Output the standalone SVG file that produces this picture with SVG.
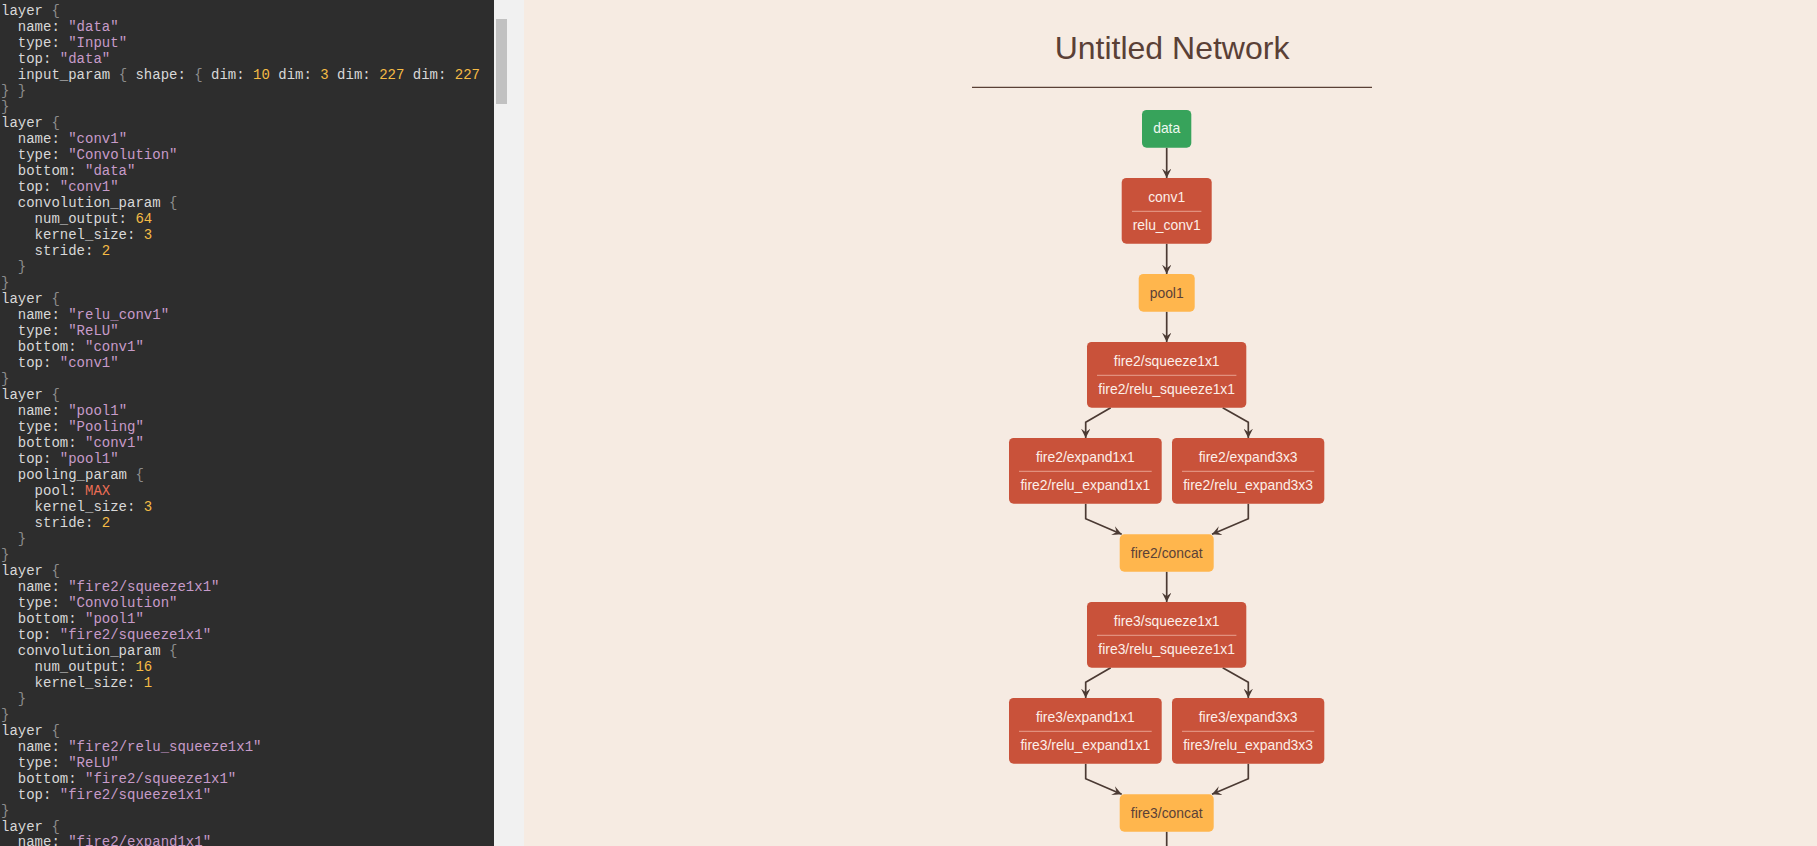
<svg xmlns="http://www.w3.org/2000/svg" width="1817" height="846" viewBox="0 0 1817 846">
<style>
.code{font-family:"Liberation Mono","DejaVu Sans Mono",monospace;font-size:14px;fill:#d8d8d8;white-space:pre}
.s{fill:#c79bc9}.n{fill:#f5bb45}.b{fill:#8c8c8c}.a{fill:#ec6d55}
.lbl{font-family:"Liberation Sans",Arial,sans-serif;font-size:13.9px;text-anchor:middle}
.conv rect.box{fill:#c9523a}.conv text{fill:#fcefe9}
.pool rect.box{fill:#ffb64d}.pool text{fill:#5b4137}
.input rect.box{fill:#37a35b}.input text{fill:#eef8f0}
.sep{stroke:#e8a18f;stroke-width:1}
.edge{fill:none;stroke:#4b3a33;stroke-width:1.7}
</style>
<defs>
<marker id="vee" viewBox="0 0 10 10" refX="10" refY="5" markerUnits="userSpaceOnUse" markerWidth="9.4" markerHeight="9.4" orient="auto">
<path d="M0,0 L10,5 L0,10 L4,5 z" fill="#4b3a33"/>
</marker>
</defs>
<rect x="0" y="0" width="1817" height="846" fill="#f6ebe2"/>
<rect x="0" y="0" width="494" height="846" fill="#2d2d2d"/>
<rect x="494" y="0" width="30" height="846" fill="#f1f1f1"/>
<rect x="496" y="19" width="11" height="85" fill="#c1c1c1"/>

<g id="code">
<text class="code" x="1" y="15">layer <tspan class="b">{</tspan></text>
<text class="code" x="1" y="31">  name: <tspan class="s">"data"</tspan></text>
<text class="code" x="1" y="47">  type: <tspan class="s">"Input"</tspan></text>
<text class="code" x="1" y="63">  top: <tspan class="s">"data"</tspan></text>
<text class="code" x="1" y="79">  input_param <tspan class="b">{</tspan> shape: <tspan class="b">{</tspan> dim: <tspan class="n">10</tspan> dim: <tspan class="n">3</tspan> dim: <tspan class="n">227</tspan> dim: <tspan class="n">227</tspan></text>
<text class="code b" x="1" y="95">} }</text>
<text class="code b" x="1" y="111">}</text>
<text class="code" x="1" y="127">layer <tspan class="b">{</tspan></text>
<text class="code" x="1" y="143">  name: <tspan class="s">"conv1"</tspan></text>
<text class="code" x="1" y="159">  type: <tspan class="s">"Convolution"</tspan></text>
<text class="code" x="1" y="175">  bottom: <tspan class="s">"data"</tspan></text>
<text class="code" x="1" y="191">  top: <tspan class="s">"conv1"</tspan></text>
<text class="code" x="1" y="207">  convolution_param <tspan class="b">{</tspan></text>
<text class="code" x="1" y="223">    num_output: <tspan class="n">64</tspan></text>
<text class="code" x="1" y="239">    kernel_size: <tspan class="n">3</tspan></text>
<text class="code" x="1" y="255">    stride: <tspan class="n">2</tspan></text>
<text class="code b" x="1" y="271">  }</text>
<text class="code b" x="1" y="287">}</text>
<text class="code" x="1" y="303">layer <tspan class="b">{</tspan></text>
<text class="code" x="1" y="319">  name: <tspan class="s">"relu_conv1"</tspan></text>
<text class="code" x="1" y="335">  type: <tspan class="s">"ReLU"</tspan></text>
<text class="code" x="1" y="351">  bottom: <tspan class="s">"conv1"</tspan></text>
<text class="code" x="1" y="367">  top: <tspan class="s">"conv1"</tspan></text>
<text class="code b" x="1" y="383">}</text>
<text class="code" x="1" y="399">layer <tspan class="b">{</tspan></text>
<text class="code" x="1" y="415">  name: <tspan class="s">"pool1"</tspan></text>
<text class="code" x="1" y="431">  type: <tspan class="s">"Pooling"</tspan></text>
<text class="code" x="1" y="447">  bottom: <tspan class="s">"conv1"</tspan></text>
<text class="code" x="1" y="463">  top: <tspan class="s">"pool1"</tspan></text>
<text class="code" x="1" y="479">  pooling_param <tspan class="b">{</tspan></text>
<text class="code" x="1" y="495">    pool: <tspan class="a">MAX</tspan></text>
<text class="code" x="1" y="511">    kernel_size: <tspan class="n">3</tspan></text>
<text class="code" x="1" y="527">    stride: <tspan class="n">2</tspan></text>
<text class="code b" x="1" y="543">  }</text>
<text class="code b" x="1" y="559">}</text>
<text class="code" x="1" y="575">layer <tspan class="b">{</tspan></text>
<text class="code" x="1" y="591">  name: <tspan class="s">"fire2/squeeze1x1"</tspan></text>
<text class="code" x="1" y="607">  type: <tspan class="s">"Convolution"</tspan></text>
<text class="code" x="1" y="623">  bottom: <tspan class="s">"pool1"</tspan></text>
<text class="code" x="1" y="639">  top: <tspan class="s">"fire2/squeeze1x1"</tspan></text>
<text class="code" x="1" y="655">  convolution_param <tspan class="b">{</tspan></text>
<text class="code" x="1" y="671">    num_output: <tspan class="n">16</tspan></text>
<text class="code" x="1" y="687">    kernel_size: <tspan class="n">1</tspan></text>
<text class="code b" x="1" y="703">  }</text>
<text class="code b" x="1" y="719">}</text>
<text class="code" x="1" y="735">layer <tspan class="b">{</tspan></text>
<text class="code" x="1" y="751">  name: <tspan class="s">"fire2/relu_squeeze1x1"</tspan></text>
<text class="code" x="1" y="767">  type: <tspan class="s">"ReLU"</tspan></text>
<text class="code" x="1" y="783">  bottom: <tspan class="s">"fire2/squeeze1x1"</tspan></text>
<text class="code" x="1" y="799">  top: <tspan class="s">"fire2/squeeze1x1"</tspan></text>
<text class="code b" x="1" y="815">}</text>
<text class="code" x="1" y="831">layer <tspan class="b">{</tspan></text>
<text class="code" x="1" y="845.5">  name: <tspan class="s">"fire2/expand1x1"</tspan></text>
</g>

<text x="1172" y="59.3" font-family="Liberation Sans, Arial, sans-serif" font-size="32" fill="#5a4036" text-anchor="middle">Untitled Network</text>
<line x1="972" y1="87.3" x2="1372" y2="87.3" stroke="#5a4036" stroke-width="1.2"/>

<g id="connectors">
<path class="edge" marker-end="url(#vee)" d="M1166.7,147.7 V178"/>
<path class="edge" marker-end="url(#vee)" d="M1166.7,243.7 V274"/>
<path class="edge" marker-end="url(#vee)" d="M1166.7,311.7 V342"/>
<path class="edge" marker-end="url(#vee)" d="M1110.7,407.7 L1085.7,422.3 V438"/>
<path class="edge" marker-end="url(#vee)" d="M1222.7,407.7 L1248.3,422.3 V438"/>
<path class="edge" marker-end="url(#vee)" d="M1085.7,503.7 V518.7 L1121.7,534.3"/>
<path class="edge" marker-end="url(#vee)" d="M1248.3,503.7 V518.7 L1212,534.3"/>
<path class="edge" marker-end="url(#vee)" d="M1166.7,571.7 V602"/>
<path class="edge" marker-end="url(#vee)" d="M1110.7,667.7 L1085.7,682.3 V698"/>
<path class="edge" marker-end="url(#vee)" d="M1222.7,667.7 L1248.3,682.3 V698"/>
<path class="edge" marker-end="url(#vee)" d="M1085.7,763.7 V778.7 L1121.7,794.3"/>
<path class="edge" marker-end="url(#vee)" d="M1248.3,763.7 V778.7 L1212,794.3"/>
<path class="edge" d="M1166.7,831.7 V850"/>
</g>

<g id="node-data" class="input lbl">
<rect class="box" x="1142" y="110" width="49.3" height="37.7" rx="4.6"/>
<text x="1166.7" y="133.4">data</text>
</g>
<g id="node-conv1" class="conv lbl">
<rect class="box" x="1121.7" y="178" width="90" height="65.7" rx="4.6"/>
<text x="1166.7" y="202">conv1</text>
<line class="sep" x1="1132" y1="211.3" x2="1201.4" y2="211.3"/>
<text x="1166.7" y="230">relu_conv1</text>
</g>
<g id="node-pool1" class="pool lbl">
<rect class="box" x="1138.7" y="274" width="56" height="37.7" rx="4.6"/>
<text x="1166.7" y="297.6">pool1</text>
</g>
<g id="node-fire2-squeeze1x1" class="conv lbl">
<rect class="box" x="1087" y="342" width="159.3" height="65.7" rx="4.6"/>
<text x="1166.7" y="366">fire2/squeeze1x1</text>
<line class="sep" x1="1097" y1="375.3" x2="1236.4" y2="375.3"/>
<text x="1166.7" y="394">fire2/relu_squeeze1x1</text>
</g>
<g id="node-fire2-expand1x1" class="conv lbl">
<rect class="box" x="1009" y="438" width="152.7" height="65.7" rx="4.6"/>
<text x="1085.35" y="462">fire2/expand1x1</text>
<line class="sep" x1="1019" y1="471.3" x2="1151.7" y2="471.3"/>
<text x="1085.35" y="490">fire2/relu_expand1x1</text>
</g>
<g id="node-fire2-expand3x3" class="conv lbl">
<rect class="box" x="1172" y="438" width="152.3" height="65.7" rx="4.6"/>
<text x="1248.15" y="462">fire2/expand3x3</text>
<line class="sep" x1="1182" y1="471.3" x2="1314.3" y2="471.3"/>
<text x="1248.15" y="490">fire2/relu_expand3x3</text>
</g>
<g id="node-fire2-concat" class="pool lbl">
<rect class="box" x="1119.7" y="534.3" width="94" height="37.4" rx="4.6"/>
<text x="1166.7" y="557.6">fire2/concat</text>
</g>
<g id="node-fire3-squeeze1x1" class="conv lbl">
<rect class="box" x="1087" y="602" width="159.3" height="65.7" rx="4.6"/>
<text x="1166.7" y="626">fire3/squeeze1x1</text>
<line class="sep" x1="1097" y1="635.3" x2="1236.4" y2="635.3"/>
<text x="1166.7" y="654">fire3/relu_squeeze1x1</text>
</g>
<g id="node-fire3-expand1x1" class="conv lbl">
<rect class="box" x="1009" y="698" width="152.7" height="65.7" rx="4.6"/>
<text x="1085.35" y="722">fire3/expand1x1</text>
<line class="sep" x1="1019" y1="731.3" x2="1151.7" y2="731.3"/>
<text x="1085.35" y="750">fire3/relu_expand1x1</text>
</g>
<g id="node-fire3-expand3x3" class="conv lbl">
<rect class="box" x="1172" y="698" width="152.3" height="65.7" rx="4.6"/>
<text x="1248.15" y="722">fire3/expand3x3</text>
<line class="sep" x1="1182" y1="731.3" x2="1314.3" y2="731.3"/>
<text x="1248.15" y="750">fire3/relu_expand3x3</text>
</g>
<g id="node-fire3-concat" class="pool lbl">
<rect class="box" x="1119.7" y="794.3" width="94" height="37.4" rx="4.6"/>
<text x="1166.7" y="817.6">fire3/concat</text>
</g>
</svg>
